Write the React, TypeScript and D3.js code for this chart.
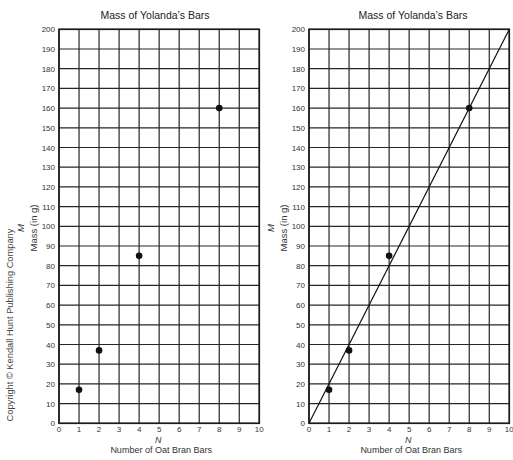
import React from 'react';
import * as d3 from 'd3';

// data
const bars = [1, 2, 4, 8];
const masses = [17, 37, 85, 160];
const xTicks = d3.range(0, 11);
const yTicks = d3.range(0, 201, 10);
const fitLine = [[0, 0], [10, 200]];

const W = 513;
const H = 460;
const font = 'Liberation Sans, Arial, sans-serif';

const Panel = ({ left, titleX, showLine }: { left: number; titleX: number; showLine: boolean }) => {
  const x = d3.scaleLinear().domain([0, 10]).range([left, left + 200.3]);
  const y = d3.scaleLinear().domain([0, 200]).range([423.3, 29.3]);
  const line = d3.line<number[]>().x(d => x(d[0])).y(d => y(d[1]));
  const cx = (x(0) + x(10)) / 2;

  return (
    <g>
      <text x={titleX} y={19} textAnchor="middle" fontSize={10.5} fill="#222">Mass of Yolanda’s Bars</text>
      {xTicks.map(t => (
        <line key={'vx' + t} x1={x(t)} x2={x(t)} y1={y(0)} y2={y(200)} stroke="#262626" strokeWidth={1.2} />
      ))}
      {yTicks.map(t => (
        <line key={'hy' + t} x1={x(0)} x2={x(10)} y1={y(t)} y2={y(t)} stroke="#262626" strokeWidth={1.2} />
      ))}
      <rect x={x(0)} y={y(200)} width={x(10) - x(0)} height={y(0) - y(200)} fill="none" stroke="#1a1a1a" strokeWidth={1.6} />
      {yTicks.map(t => (
        <text key={'yl' + t} x={x(0) - 4} y={y(t) + 3} textAnchor="end" fontSize={8} fill="#333">{t}</text>
      ))}
      {xTicks.map(t => (
        <text key={'xl' + t} x={x(t)} y={432} textAnchor="middle" fontSize={8} fill="#333">{t}</text>
      ))}
      <text x={cx - 1} y={443} textAnchor="middle" fontSize={9} fontStyle="italic" fill="#333">N</text>
      <text x={cx + 2} y={453} textAnchor="middle" fontSize={9} fill="#333">Number of Oat Bran Bars</text>
      <text transform={`translate(${left - 35},228) rotate(-90)`} textAnchor="middle" fontSize={9.5} fontStyle="italic" fill="#333">M</text>
      <text transform={`translate(${left - 22.5},228) rotate(-90)`} textAnchor="middle" fontSize={9.5} fill="#333">Mass (in g)</text>
      {showLine && (
        <path d={line(fitLine) || ''} fill="none" stroke="#111" strokeWidth={1.2} />
      )}
      {bars.map((b, i) => (
        <circle key={'p' + i} cx={x(b)} cy={y(masses[i])} r={3.3} fill="#111" />
      ))}
    </g>
  );
};

export default function App() {
  return (
    <svg width={W} height={H} style={{ position: 'absolute', left: 0, top: 0, background: '#fff', fontFamily: font }}>
      <rect width={W} height={H} fill="#fff" />
      <text transform="translate(12.5,325) rotate(-90)" textAnchor="middle" fontSize={9.3} fill="#444">Copyright © Kendall Hunt Publishing Company</text>
      <Panel left={59} titleX={155} showLine={false} />
      <Panel left={309} titleX={413} showLine={true} />
    </svg>
  );
}
